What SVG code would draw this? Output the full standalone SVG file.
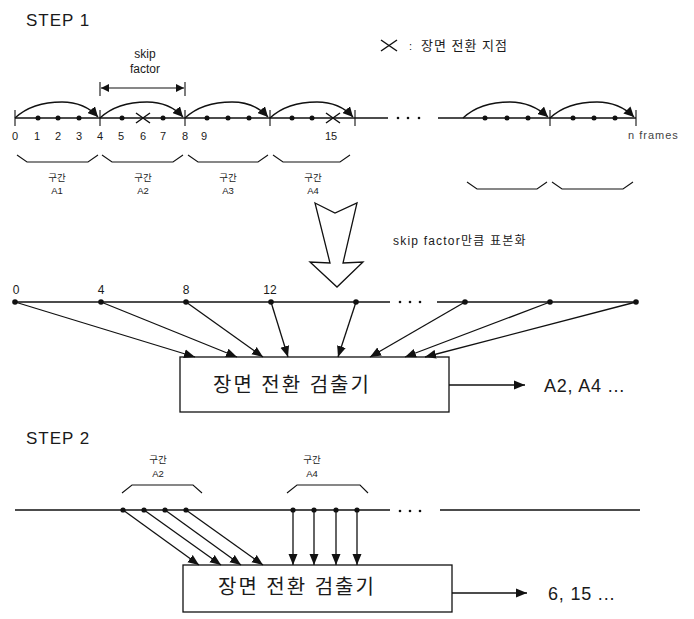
<svg xmlns="http://www.w3.org/2000/svg" width="694" height="619" viewBox="0 0 694 619">
<defs>
<style>
text{font-family:"Liberation Sans","Noto Sans CJK KR",sans-serif;fill:#1a1a1a}
.step{font-size:17px;letter-spacing:1px}
.num{font-size:11px;fill:#444}
.small{font-size:9.5px;fill:#555}
.ko{font-size:20px;letter-spacing:2px}
.out{font-size:18px;letter-spacing:0.8px}
.ln{stroke:#111;stroke-width:1.5;fill:none}
.thin{stroke:#111;stroke-width:1.1;fill:none}
.arc{stroke:#111;stroke-width:1.3;fill:none;marker-end:url(#ah)}
.con{stroke:#111;stroke-width:1.3;fill:none;marker-end:url(#ah2)}
.dot{fill:#111}
.box{fill:#fff;stroke:#111;stroke-width:1.3}
</style>
<marker id="ah" markerUnits="userSpaceOnUse" markerWidth="12" markerHeight="10" refX="10" refY="5" orient="auto"><path d="M0,0 L10,5 L0,10 z" fill="#111"/></marker>
<marker id="ah2" markerUnits="userSpaceOnUse" markerWidth="12" markerHeight="10" refX="11" refY="5" orient="auto"><path d="M0,0.5 L11,5 L0,9.5 z" fill="#111"/></marker>
<marker id="ahs" markerUnits="userSpaceOnUse" markerWidth="10" markerHeight="8" refX="8" refY="4" orient="auto-start-reverse"><path d="M0,0 L8,4 L0,8 z" fill="#111"/></marker>
</defs>

<text class="step" x="26" y="26">STEP 1</text>

<g id="skip-factor">
<text x="145" y="58" font-size="12" text-anchor="middle">skip</text>
<text x="145" y="73" font-size="12" text-anchor="middle">factor</text>
<line class="thin" x1="100" y1="82" x2="100" y2="96"/>
<line class="thin" x1="185" y1="82" x2="185" y2="96"/>
<line class="thin" x1="101" y1="88" x2="184" y2="88" marker-start="url(#ahs)" marker-end="url(#ahs)"/>
</g>

<g id="legend">
<path class="ln" d="M381,40 L397,51 M381,51 L397,40"/>
<text x="409" y="50" font-size="11" fill="#444">:</text>
<text x="421" y="50" font-size="13" letter-spacing="1">장면 전환 지점</text>
</g>

<g id="timeline1">
<line class="ln" x1="15" y1="118" x2="388" y2="118"/>
<line class="ln" x1="438" y1="118" x2="636" y2="118"/>
<circle class="dot" cx="398" cy="118" r="1.3"/><circle class="dot" cx="408" cy="118" r="1.3"/><circle class="dot" cx="419" cy="118" r="1.3"/>
<path class="thin" d="M15,110 V126 M100,110 V126 M185,110 V126 M270,110 V126 M355,110 V126 M550,110 V126 M636,110 V126"/>
<g class="dot">
<circle cx="38" cy="118" r="2.5"/><circle cx="58" cy="118" r="2.5"/><circle cx="79" cy="118" r="2.5"/>
<circle cx="122" cy="118" r="2.5"/><circle cx="163" cy="118" r="2.5"/>
<circle cx="207" cy="118" r="2.5"/><circle cx="228" cy="118" r="2.5"/><circle cx="249" cy="118" r="2.5"/>
<circle cx="292" cy="118" r="2.5"/><circle cx="312" cy="118" r="2.5"/>
<circle cx="485" cy="118" r="2.5"/><circle cx="507" cy="118" r="2.5"/><circle cx="528" cy="118" r="2.5"/>
<circle cx="573" cy="118" r="2.5"/><circle cx="594" cy="118" r="2.5"/><circle cx="615" cy="118" r="2.5"/>
</g>
<path class="ln" d="M136,113 L150,123 M136,123 L150,113 M326,113 L340,123 M326,123 L340,113"/>
<path class="arc" d="M15,118 C30,104 50,102 62,102 C75,102 88,106 98,117"/>
<path class="arc" d="M100,118 C115,104 135,102 147,102 C160,102 173,106 183,117"/>
<path class="arc" d="M185,118 C200,104 220,102 232,102 C245,102 258,106 268,117"/>
<path class="arc" d="M270,118 C285,104 305,102 317,102 C330,102 343,106 353,117"/>
<path class="arc" d="M463,118 C478,104 498,102 510,102 C523,102 536,106 548,117"/>
<path class="arc" d="M550,118 C565,104 585,102 597,102 C610,102 623,106 634,117"/>
<g class="num" text-anchor="middle">
<text x="15" y="140">0</text><text x="37" y="140">1</text><text x="58" y="140">2</text><text x="79" y="140">3</text><text x="100" y="140">4</text>
<text x="121" y="140">5</text><text x="143" y="140">6</text><text x="163" y="140">7</text><text x="185" y="140">8</text><text x="204" y="140">9</text><text x="331" y="140">15</text>
</g>
<text class="num" x="628" y="139" font-size="12" letter-spacing="1">n frames</text>
<path class="thin" d="M17,155 L27,162 L88,162 L98,155 M102,155 L112,162 L173,162 L183,155 M188,155 L198,162 L258,162 L268,155 M273,155 L283,162 L340,162 L350,155 M467,182 L477,189 L537,189 L547,182 M552,182 L562,189 L623,189 L633,182"/>
<g class="small" text-anchor="middle">
<text x="57" y="181">구간</text><text x="57" y="194">A1</text>
<text x="143" y="181">구간</text><text x="143" y="194">A2</text>
<text x="228" y="181">구간</text><text x="228" y="194">A3</text>
<text x="313" y="181">구간</text><text x="313" y="194">A4</text>
</g>
</g>

<g id="sampling-arrow">
<polygon points="315,203 335,213 357,203 343,263 363,262 337,287 310,262 330,263" fill="#fff" stroke="#111" stroke-width="1.3" stroke-linejoin="miter"/>
<text x="393" y="245" font-size="12" letter-spacing="1.2" fill="#555">skip factor만큼 표본화</text>
</g>

<g id="timeline2">
<line class="ln" x1="15" y1="302" x2="390" y2="302"/>
<line class="ln" x1="437" y1="302" x2="636" y2="302"/>
<circle class="dot" cx="400" cy="302" r="1.3"/><circle class="dot" cx="410" cy="302" r="1.3"/><circle class="dot" cx="420" cy="302" r="1.3"/>
<g class="dot">
<circle cx="15" cy="302" r="2.8"/><circle cx="101" cy="302" r="2.8"/><circle cx="186" cy="302" r="2.8"/><circle cx="271" cy="302" r="2.8"/><circle cx="356" cy="302" r="2.8"/>
<circle cx="465" cy="302" r="2.8"/><circle cx="550" cy="302" r="2.8"/><circle cx="636" cy="302" r="2.8"/>
</g>
<g font-size="12" text-anchor="middle">
<text x="16" y="294">0</text><text x="101" y="294">4</text><text x="186" y="294">8</text><text x="270" y="294">12</text>
</g>
</g>

<g id="detector1">
<rect class="box" x="180" y="357" width="269" height="55"/>
<text class="ko" x="213" y="392">장면 전환 검출기</text>
</g>
<g id="output1">
<text class="out" x="544" y="392">A2, A4 ...</text>
</g>

<text class="step" x="26" y="444">STEP 2</text>

<g id="timeline3">
<line class="ln" x1="15" y1="510" x2="390" y2="510"/>
<line class="ln" x1="440" y1="510" x2="640" y2="510"/>
<circle class="dot" cx="400" cy="511" r="1.3"/><circle class="dot" cx="410" cy="511" r="1.3"/><circle class="dot" cx="420" cy="511" r="1.3"/>
<g class="dot">
<circle cx="123" cy="510" r="2.6"/><circle cx="144" cy="510" r="2.6"/><circle cx="165" cy="510" r="2.6"/><circle cx="186" cy="510" r="2.6"/>
<circle cx="293" cy="510" r="2.6"/><circle cx="314" cy="510" r="2.6"/><circle cx="336" cy="510" r="2.6"/><circle cx="357" cy="510" r="2.6"/>
</g>
<path class="thin" d="M122,493 L132,485 L193,485 L202,493 M287,493 L297,485 L360,485 L368,493"/>
<g class="small" text-anchor="middle">
<text x="158" y="463">구간</text><text x="158" y="477">A2</text>
<text x="312" y="463">구간</text><text x="312" y="477">A4</text>
</g>
</g>

<g id="detector2">
<rect class="box" x="183" y="565" width="269" height="47"/>
<text class="ko" x="218" y="594">장면 전환 검출기</text>
</g>
<g id="output2">
<text class="out" x="548" y="600">6, 15 ...</text>
</g>

<g id="connectors">
<line class="con" x1="15" y1="302" x2="195" y2="357"/>
<line class="con" x1="101" y1="302" x2="237" y2="357"/>
<line class="con" x1="186" y1="302" x2="263" y2="357"/>
<line class="con" x1="271" y1="302" x2="288" y2="357"/>
<line class="con" x1="356" y1="302" x2="338" y2="357"/>
<line class="con" x1="465" y1="302" x2="370" y2="357"/>
<line class="con" x1="550" y1="302" x2="405" y2="357"/>
<line class="con" x1="636" y1="302" x2="425" y2="357"/>
<line class="con" x1="449" y1="385" x2="525" y2="385"/>
<line class="con" x1="123" y1="510" x2="199" y2="565"/>
<line class="con" x1="144" y1="510" x2="221" y2="565"/>
<line class="con" x1="165" y1="510" x2="241" y2="565"/>
<line class="con" x1="186" y1="510" x2="263" y2="565"/>
<line class="con" x1="293" y1="510" x2="293" y2="565"/>
<line class="con" x1="314" y1="510" x2="314" y2="565"/>
<line class="con" x1="336" y1="510" x2="336" y2="565"/>
<line class="con" x1="357" y1="510" x2="357" y2="565"/>
<line class="con" x1="452" y1="593" x2="527" y2="593"/>
</g>
</svg>
